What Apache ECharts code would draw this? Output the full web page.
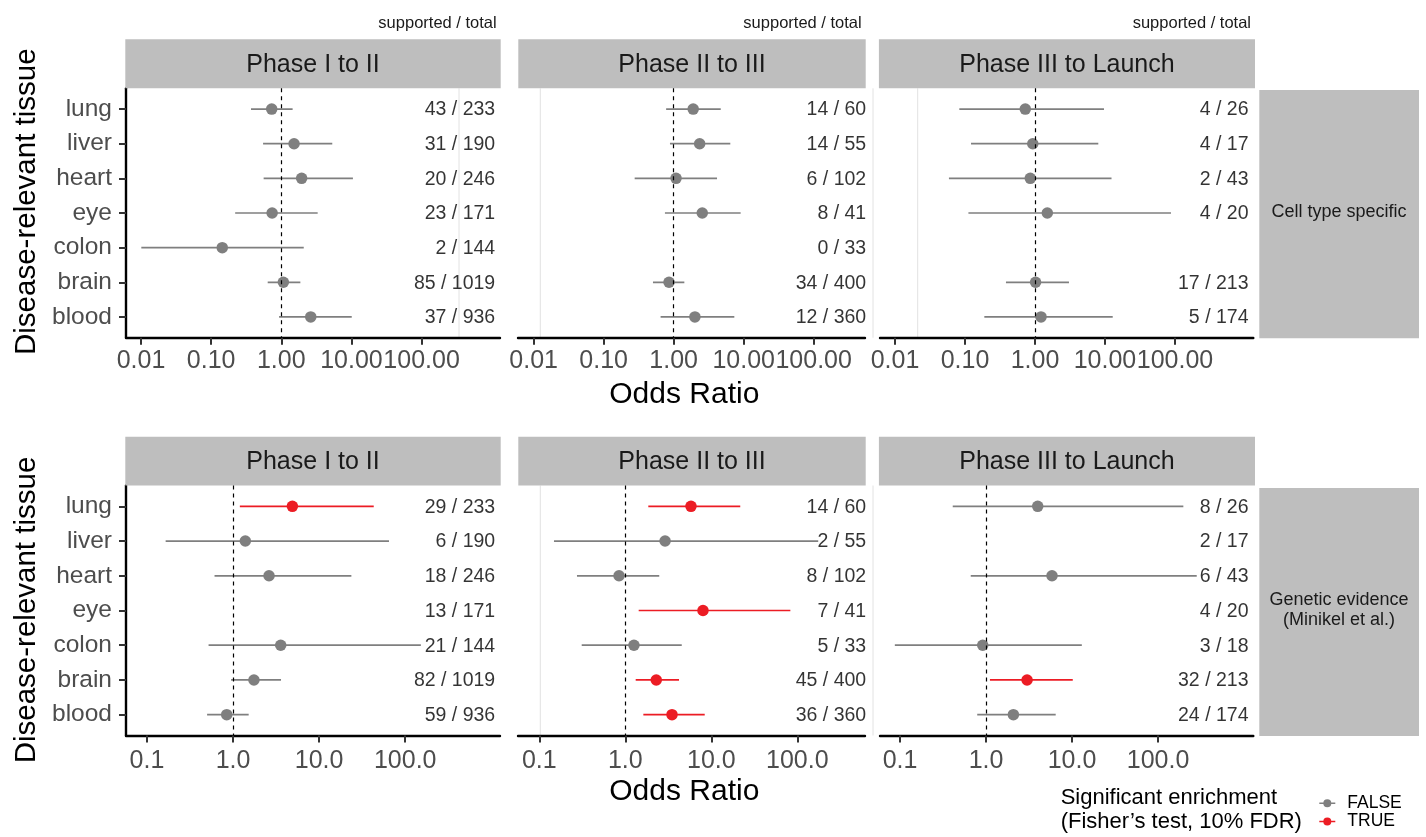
<!DOCTYPE html>
<html>
<head>
<meta charset="utf-8">
<script src="https://cdn.jsdelivr.net/npm/echarts@6/dist/echarts.min.js"></script>
<style>
html,body{margin:0;padding:0;background:#fff;}
#chart{width:1426px;height:837px;}
</style>
</head>
<body>
<div id="chart"></div>
<script>
// ---------------- DATA ----------------
const tissues = ['lung', 'liver', 'heart', 'eye', 'colon', 'brain', 'blood'];
const phases = ['Phase I to II', 'Phase II to III', 'Phase III to Launch'];
const evidenceTypes = ['Cell type specific', 'Genetic evidence\n(Minikel et al.)'];
const topTickValues = [0.01, 0.1, 1, 10, 100];
const topTickLabels = ['0.01', '0.10', '1.00', '10.00', '100.00'];
const bottomTickValues = [0.1, 1, 10, 100];
const bottomTickLabels = ['0.1', '1.0', '10.0', '100.0'];
const sigLevels = ['FALSE', 'TRUE'];

// Cell type specific — Phase I to II
const cellP1OR = [0.73, 1.52, 1.95, 0.74, 0.144, 1.07, 2.63];
const cellP1Low = [0.37, 0.55, 0.56, 0.22, 0.0101, 0.64, 0.93];
const cellP1High = [1.45, 5.33, 10.5, 3.30, 2.09, 1.87, 10.1];
const cellP1Sig = [0, 0, 0, 0, 0, 0, 0];
const cellP1Supported = [43, 31, 20, 23, 2, 85, 37];
const cellP1Total = [233, 190, 246, 171, 144, 1019, 936];

// Cell type specific — Phase II to III
const cellP2OR = [1.90, 2.35, 1.08, 2.56, null, 0.857, 2.01];
const cellP2Low = [0.78, 0.885, 0.277, 0.75, null, 0.506, 0.65];
const cellP2High = [4.7, 6.44, 4.16, 9.05, null, 1.42, 7.35];
const cellP2Sig = [0, 0, 0, 0, 0, 0, 0];
const cellP2Supported = [14, 14, 6, 8, 0, 34, 12];
const cellP2Total = [60, 55, 102, 41, 33, 400, 360];

// Cell type specific — Phase III to Launch
const cellP3OR = [0.727, 0.93, 0.857, 1.50, null, 1.02, 1.22];
const cellP3Low = [0.083, 0.122, 0.059, 0.112, null, 0.385, 0.189];
const cellP3High = [9.68, 8.03, 12.4, 87.7, null, 3.06, 12.9];
const cellP3Sig = [0, 0, 0, 0, 0, 0, 0];
const cellP3Supported = [4, 4, 2, 4, null, 17, 5];
const cellP3Total = [26, 17, 43, 20, null, 213, 174];

// Genetic evidence — Phase I to II
const genP1OR = [4.89, 1.39, 2.62, null, 3.58, 1.75, 0.845];
const genP1Low = [1.2, 0.165, 0.61, null, 0.52, 0.95, 0.50];
const genP1High = [43.1, 64.8, 23.7, null, 152, 3.61, 1.52];
const genP1Sig = [1, 0, 0, 0, 0, 0, 0];
const genP1Supported = [29, 6, 18, 13, 21, 82, 59];
const genP1Total = [233, 190, 246, 171, 144, 1019, 936];

// Genetic evidence — Phase II to III
const genP2OR = [5.8, 2.9, 0.845, 8.0, 1.26, 2.29, 3.49];
const genP2Low = [1.85, 0.148, 0.274, 1.43, 0.311, 1.32, 1.62];
const genP2High = [21.7, 175, 2.48, 83, 4.53, 4.21, 8.38];
const genP2Sig = [1, 0, 0, 1, 0, 1, 1];
const genP2Supported = [14, 2, 8, 7, 5, 45, 36];
const genP2Total = [60, 55, 102, 41, 33, 400, 360];

// Genetic evidence — Phase III to Launch
const genP3OR = [3.99, null, 5.85, null, 0.915, 3.0, 2.08];
const genP3Low = [0.41, null, 0.664, null, 0.087, 1.11, 0.79];
const genP3High = [197, null, 282, null, 13.0, 10.2, 6.46];
const genP3Sig = [0, 0, 0, 0, 0, 1, 0];
const genP3Supported = [8, 2, 6, 4, 3, 32, 24];
const genP3Total = [26, 17, 43, 20, 18, 213, 174];

// ---------------- LAYOUT / STYLE ----------------
const FONT = '"Liberation Sans", Arial, Helvetica, sans-serif';
const GREY = '#7F7F7F';
const RED = '#EC1C24';
const colorOf = { FALSE: GREY, TRUE: RED };

const colLeft = [126, 518, 880];
const colWidth = [374, 347, 373.3];
const rowTop = [88.3, 485.5];
const rowHeight = [249.4, 250];
// log10 extents of each panel's x axis [row][col]
const xLogExtent = [
  [[-2.214, 3.118], [-2.224, 2.733], [-2.214, 3.119]],
  [[-1.243, 3.101], [-1.248, 2.787], [-1.233, 3.108]]
];
const annotOffset = [-4.3, 1.7, -4.3];
const labelMargin = [10.5, 13.5];

const panels = [
  [
    { or: cellP1OR, lo: cellP1Low, hi: cellP1High, sig: cellP1Sig, sup: cellP1Supported, tot: cellP1Total },
    { or: cellP2OR, lo: cellP2Low, hi: cellP2High, sig: cellP2Sig, sup: cellP2Supported, tot: cellP2Total },
    { or: cellP3OR, lo: cellP3Low, hi: cellP3High, sig: cellP3Sig, sup: cellP3Supported, tot: cellP3Total }
  ],
  [
    { or: genP1OR, lo: genP1Low, hi: genP1High, sig: genP1Sig, sup: genP1Supported, tot: genP1Total },
    { or: genP2OR, lo: genP2Low, hi: genP2High, sig: genP2Sig, sup: genP2Supported, tot: genP2Total },
    { or: genP3OR, lo: genP3Low, hi: genP3High, sig: genP3Sig, sup: genP3Supported, tot: genP3Total }
  ]
];

const grids = [], xAxes = [], yAxes = [], series = [];
const graphics = [];

function tickFormatter(values, labels) {
  return function (v) {
    for (let k = 0; k < values.length; k++) {
      if (Math.abs(Math.log10(values[k]) - Math.log10(v)) < 1e-6) return labels[k];
    }
    return '';
  };
}

let gi = 0;
for (let r = 0; r < 2; r++) {
  for (let c = 0; c < 3; c++) {
    const p = panels[r][c];
    const ext = xLogExtent[r][c];
    const xMin = Math.pow(10, ext[0]);
    const xMax = Math.pow(10, ext[1]);
    const tv = r === 0 ? topTickValues : bottomTickValues;
    const tl = r === 0 ? topTickLabels : bottomTickLabels;

    grids.push({ left: colLeft[c], top: rowTop[r], width: colWidth[c], height: rowHeight[r], containLabel: false });

    xAxes.push({
      type: 'log', logBase: 10, gridIndex: gi, min: xMin, max: xMax, position: 'bottom',
      axisLine: { show: true, onZero: false, lineStyle: { color: '#000', width: 2.4 } },
      axisTick: { show: true, customValues: tv, length: 7, lineStyle: { color: '#333', width: 2 } },
      axisLabel: { customValues: tv, formatter: tickFormatter(tv, tl), fontSize: 25, color: '#4D4D4D',
                   fontFamily: FONT, margin: labelMargin[r], hideOverlap: false },
      splitLine: { show: false }, minorTick: { show: false }, minorSplitLine: { show: false }
    });

    const showY = c === 0;
    yAxes.push({
      type: 'value', gridIndex: gi, min: -0.6, max: 6.6, inverse: true, show: showY, position: 'left',
      axisLine: { show: true, onZero: false, lineStyle: { color: '#000', width: 2.4 } },
      axisTick: { show: true, customValues: [0, 1, 2, 3, 4, 5, 6], length: 7, lineStyle: { color: '#333', width: 2 } },
      axisLabel: { customValues: [0, 1, 2, 3, 4, 5, 6], formatter: v => tissues[Math.round(v)] || '',
                   fontSize: 24.5, color: '#4D4D4D', fontFamily: FONT, margin: 14 },
      splitLine: { show: false }
    });

    sigLevels.forEach((lvl, li) => {
      const bars = [], pts = [];
      for (let i = 0; i < tissues.length; i++) {
        if (p.or[i] == null) continue;
        if ((p.sig[i] ? 1 : 0) !== li) continue;
        bars.push([p.lo[i], p.hi[i], i]);
        pts.push([p.or[i], i]);
      }
      series.push({
        type: 'custom', name: lvl, xAxisIndex: gi, yAxisIndex: gi, z: 2, silent: true,
        itemStyle: { color: colorOf[lvl] },
        encode: { x: [0, 1], y: 2 },
        renderItem: function (params, api) {
          const a = api.coord([api.value(0), api.value(2)]);
          const b = api.coord([api.value(1), api.value(2)]);
          return { type: 'line', shape: { x1: a[0], y1: a[1], x2: b[0], y2: b[1] },
                   style: { stroke: colorOf[lvl], lineWidth: 1.7 } };
        },
        data: bars
      });
      series.push({
        type: 'scatter', name: lvl, xAxisIndex: gi, yAxisIndex: gi, z: 3, silent: true,
        symbol: 'circle', symbolSize: 11.5, itemStyle: { color: colorOf[lvl], opacity: 1 },
        data: pts
      });
    });

    // annotations "supported / total" + reference line at OR = 1
    const ann = [];
    for (let i = 0; i < tissues.length; i++) {
      if (p.sup[i] == null) continue;
      ann.push({ value: [xMax, i], label: { formatter: p.sup[i] + ' / ' + p.tot[i] } });
    }
    series.push({
      type: 'scatter', name: 'annot', xAxisIndex: gi, yAxisIndex: gi, z: 4, silent: true, clip: false,
      symbol: 'circle', symbolSize: 1, itemStyle: { color: 'rgba(255,255,255,0)' },
      label: { show: true, position: 'left', distance: 0, offset: [annotOffset[c], 1],
               fontSize: 19.5, color: '#000', fontFamily: FONT },
      data: ann,
      markLine: {
        silent: true, symbol: ['none', 'none'], animation: false,
        label: { show: false },
        lineStyle: { color: '#000', width: 1.2, type: [4, 4] },
        data: [{ xAxis: 1 }]
      }
    });
    gi++;
  }
}

// ---------- decorations: strips, titles ----------
const stripX = [[125.3, 500.7], [518.3, 865.7], [878.9, 1255]];
const stripY = [[39.3, 88.3], [436.7, 485.5]];
for (let r = 0; r < 2; r++) {
  for (let c = 0; c < 3; c++) {
    graphics.push({ type: 'rect', silent: true, z: 1,
      shape: { x: stripX[c][0], y: stripY[r][0], width: stripX[c][1] - stripX[c][0], height: stripY[r][1] - stripY[r][0] },
      style: { fill: '#BEBEBE' } });
    graphics.push({ type: 'text', silent: true, z: 2,
      style: { x: (stripX[c][0] + stripX[c][1]) / 2, y: (stripY[r][0] + stripY[r][1]) / 2 + 1,
               text: phases[c], fontSize: 25, fontFamily: FONT, fill: '#1A1A1A', align: 'center', verticalAlign: 'middle' } });
  }
}
// "supported / total" headers (top row)
const headRight = [496.7, 861.7, 1251];
for (let c = 0; c < 3; c++) {
  graphics.push({ type: 'text', silent: true,
    style: { x: headRight[c], y: 23, text: 'supported / total', fontSize: 16.5, fontFamily: FONT, fill: '#1A1A1A',
             align: 'right', verticalAlign: 'middle' } });
}
// row strips
const rowStripY = [[90, 338.3], [488, 736]];
for (let r = 0; r < 2; r++) {
  graphics.push({ type: 'rect', silent: true,
    shape: { x: 1259.3, y: rowStripY[r][0], width: 159.7, height: rowStripY[r][1] - rowStripY[r][0] },
    style: { fill: '#BEBEBE' } });
  graphics.push({ type: 'text', silent: true,
    style: { x: 1339, y: (rowStripY[r][0] + rowStripY[r][1]) / 2 - 2, text: evidenceTypes[r], fontSize: 18,
             lineHeight: 19.5, fontFamily: FONT, fill: '#1A1A1A', align: 'center', verticalAlign: 'middle' } });
}
// axis titles
const yTitleY = [201.7, 610];
const xTitleY = [395, 792];
for (let r = 0; r < 2; r++) {
  graphics.push({ type: 'text', silent: true, x: 27, y: yTitleY[r], rotation: Math.PI / 2,
    style: { x: 0, y: 0, text: 'Disease-relevant tissue', fontSize: 29.5, fontFamily: FONT, fill: '#000',
             align: 'center', verticalAlign: 'middle' } });
  graphics.push({ type: 'text', silent: true,
    style: { x: 684.3, y: xTitleY[r], text: 'Odds Ratio', fontSize: 30, fontFamily: FONT, fill: '#000',
             align: 'center', verticalAlign: 'middle' } });
}
// faint panel borders (from the composed layout)
const faint = [
  [459, 88.3, 459, 337.7], [540.3, 88.3, 540.3, 337.7], [873, 88.3, 873, 337.7], [917.7, 88.3, 917.7, 337.7],
  [540.3, 485.5, 540.3, 735.5], [873, 485.5, 873, 735.5]
];
faint.forEach(f => graphics.push({ type: 'line', silent: true, z: 0,
  shape: { x1: f[0], y1: f[1], x2: f[2], y2: f[3] }, style: { stroke: '#E2E2E2', lineWidth: 1 } }));
// legend title
graphics.push({ type: 'text', silent: true,
  style: { x: 1060.7, y: 786.3, text: 'Significant enrichment\n(Fisher\u2019s test, 10% FDR)', fontSize: 22,
           lineHeight: 23.5, fontFamily: FONT, fill: '#000', align: 'left', verticalAlign: 'top' } });

const legendIcon = 'path://M0,3.3L4.2,3.3L4.2,4.7L0,4.7Z M11.8,3.3L16,3.3L16,4.7L11.8,4.7Z M12,4A4,4,0,1,1,4,4A4,4,0,1,1,12,4Z';

const option = {
  animation: false,
  backgroundColor: '#fff',
  grid: grids,
  xAxis: xAxes,
  yAxis: yAxes,
  series: series,
  legend: {
    data: sigLevels.map(s => ({ name: s, icon: legendIcon })),
    orient: 'vertical', left: 1319.3, top: 794.2, itemWidth: 16, itemHeight: 8, itemGap: 0.3,
    selectedMode: false, padding: 0,
    textStyle: { fontSize: 17.5, fontFamily: FONT, color: '#000', lineHeight: 17, padding: [0, 0, 0, 7] }
  },
  graphic: graphics
};

const chart = echarts.init(document.getElementById('chart'), null, { renderer: 'canvas' });
chart.setOption(option);
</script>
</body>
</html>
